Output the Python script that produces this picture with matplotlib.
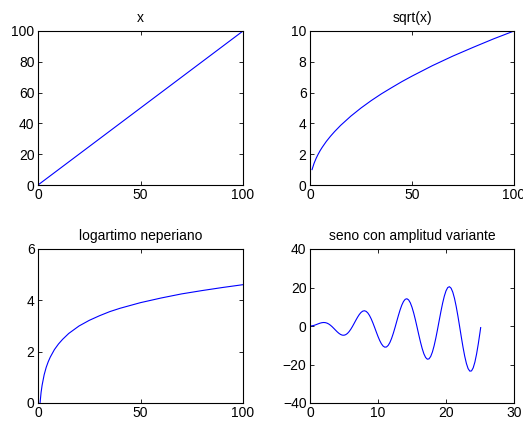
import matplotlib
matplotlib.use("Agg")
import matplotlib.pyplot as plt

plt.rcParams['font.family'] = ['Liberation Sans', 'DejaVu Sans']
plt.rcParams['font.size'] = 10

# panel 1: x
lin_x = [0, 25, 50, 75, 100]
lin_y = [0, 25, 50, 75, 100]

# panel 2: sqrt(x)
sq_x = [1, 2, 3, 4, 5, 6, 8, 10, 12, 15, 20, 25, 30, 35, 40, 45, 50, 60, 70, 80, 90, 100]
sq_y = [1.0, 1.41, 1.73, 2.0, 2.24, 2.45, 2.83, 3.16, 3.46, 3.87, 4.47, 5.0, 5.48,
        5.92, 6.32, 6.71, 7.07, 7.75, 8.37, 8.94, 9.49, 10.0]

# panel 3: logaritmo neperiano
ln_x = [1, 1.5, 2, 3, 4, 5, 6, 8, 10, 12, 15, 20, 25, 30, 35, 40, 50, 60, 70, 80, 90, 100]
ln_y = [0.0, 0.41, 0.69, 1.10, 1.39, 1.61, 1.79, 2.08, 2.30, 2.48, 2.71, 3.00, 3.22,
        3.40, 3.56, 3.69, 3.91, 4.09, 4.25, 4.38, 4.50, 4.61]

# panel 4: seno con amplitud variante (step 0.25)
sn_x = [i * 0.25 for i in range(101)] + [25.1]
sn_y = [0.0, 0.06, 0.24, 0.51, 0.84, 1.19, 1.50, 1.72, 1.82, 1.75, 1.50, 1.05, 0.42,
        -0.35, -1.23, -2.14, -3.03, -3.80, -4.40, -4.75, -4.79, -4.51, -3.88, -2.92,
        -1.68, -0.21, 1.40, 3.04, 4.60, 5.97, 7.04, 7.71, 7.92, 7.61, 6.79, 5.47, 3.71,
        1.61, -0.71, -3.12, -5.44, -7.53, -9.24, -10.43, -11.00, -10.89, -10.07, -8.56,
        -6.44, -3.81, -0.83, 2.33, 5.46, 8.37, 10.85, 12.73, 13.87, 14.16, 13.56, 12.07,
        9.75, 6.74, 3.20, -0.66, -4.61, -8.38, -11.74, -14.47, -16.34, -17.24, -17.07,
        -15.82, -13.52, -10.30, -6.34, -1.86, 2.85, 7.50, 11.81, 15.48, 18.26, 19.96,
        20.43, 19.63, 17.57, 14.35, 10.14, 5.20, -0.19, -5.69, -10.96, -15.65, -19.46,
        -22.13, -23.45, -23.33, -21.73, -18.74, -14.49, -9.24, -3.31, -0.82]

fig = plt.figure(figsize=(5.23, 4.24), dpi=100)

W, H = 523.0, 424.0
def place(l, t, r, b):
    return [l / W, 1 - b / H, (r - l) / W, (b - t) / H]

panels = [
    (place(38, 31, 243, 185), lin_x, lin_y, 'x', (0, 100), (0, 100), [0, 50, 100], [0, 20, 40, 60, 80, 100]),
    (place(310, 31, 514, 185), sq_x, sq_y, 'sqrt(x)', (0, 100), (0, 10), [0, 50, 100], [0, 2, 4, 6, 8, 10]),
    (place(38, 249, 243, 403), ln_x, ln_y, 'logartimo neperiano', (0, 100), (0, 6), [0, 50, 100], [0, 2, 4, 6]),
    (place(310, 249, 514, 403), sn_x, sn_y, 'seno con amplitud variante', (0, 30), (-40, 40), [0, 10, 20, 30], [-40, -20, 0, 20, 40]),
]

for rect, xs, ys, title, xl, yl, xt, yt in panels:
    ax = fig.add_axes(rect)
    ax.plot(xs, ys, color='#0000ff', linewidth=0.8)
    ax.set_xlim(*xl)
    ax.set_ylim(*yl)
    ax.set_xticks(xt)
    ax.set_yticks(yt)
    ax.set_title(title, fontsize=10, pad=6.5)
    ax.tick_params(direction='in', length=3, width=0.6, top=True, right=True,
                   labelsize=10, pad=2.5)
    for s in ax.spines.values():
        s.set_linewidth(0.8)

fig.savefig('out.png', dpi=100)
